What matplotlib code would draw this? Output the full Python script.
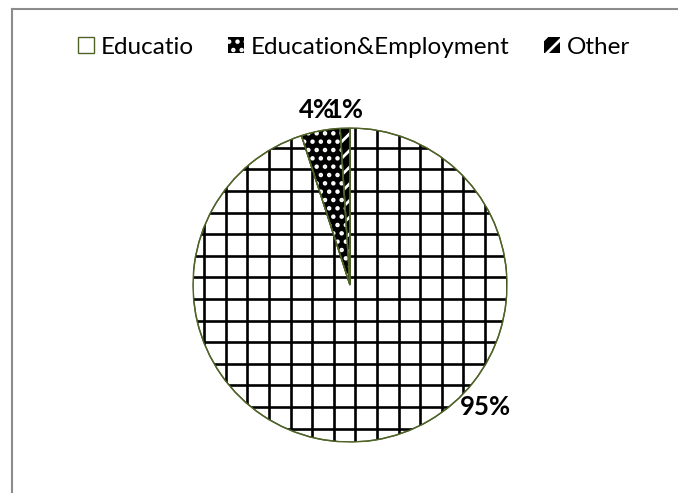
import numpy as np
import matplotlib
matplotlib.use("Agg")
import matplotlib.pyplot as plt
from matplotlib.patches import Patch, Wedge
from matplotlib.lines import Line2D

# data
categories = ["Educatio", "Education&Employment", "Other"]
shares = [95, 4, 1]

OLIVE = "#4f6228"
plt.rcParams["font.family"] = ["Lato", "DejaVu Sans"]
plt.rcParams["hatch.linewidth"] = 2.0

fig = plt.figure(figsize=(6.78, 4.93), dpi=100)

# grey frame on the left and top
fig.add_artist(Line2D([11.5 / 678, 11.5 / 678], [0, 1 - 8.5 / 493],
                      transform=fig.transFigure, color="#8c8c8c", lw=1.5))
fig.add_artist(Line2D([11.5 / 678, 1], [1 - 8.5 / 493, 1 - 8.5 / 493],
                      transform=fig.transFigure, color="#8c8c8c", lw=1.5))

ax = fig.add_axes([193 / 678, 51 / 493, 314 / 678, 314 / 493])
wedges, _ = ax.pie(shares, startangle=90, counterclock=False, radius=1,
                   colors=["white", "black", "black"],
                   wedgeprops=dict(edgecolor=OLIVE, linewidth=1.0))
ax.set_xlim(-1, 1)
ax.set_ylim(-1, 1)
ax.axis("off")

# square grid inside the big slice
step = 0.1376
edu = wedges[0]
for k in range(-8, 9):
    xv = 0.034 + k * step
    ln = ax.plot([xv, xv], [-1.1, 1.1], color="black", lw=1.9, zorder=1.5)[0]
    ln.set_clip_path(edu)
    yv = -0.089 + k * step
    ln = ax.plot([-1.1, 1.1], [yv, yv], color="black", lw=1.9, zorder=1.5)[0]
    ln.set_clip_path(edu)

# white dots / white stripes on the small black slices
hatches = [None, "..", "//"]
for w, h in zip(wedges, hatches):
    if h is None:
        continue
    over = Wedge(w.center, w.r, w.theta1, w.theta2, facecolor="none",
                 edgecolor="white", hatch=h, linewidth=0, zorder=1.6)
    ax.add_patch(over)
for w in wedges:
    edge = Wedge(w.center, w.r, w.theta1, w.theta2, facecolor="none",
                 edgecolor=OLIVE, linewidth=1.0, zorder=1.7)
    ax.add_patch(edge)

# percentage labels
total = sum(shares)
label_pos = [(0.86, -0.777), (-0.21, 1.115), (-0.03, 1.115)]
for v, (lx, ly) in zip(shares, label_pos):
    ax.text(lx, ly, f"{v / total * 100:.0f}%", ha="center", va="center",
            fontsize=18.5, fontweight="bold", color="black", clip_on=False)

handles = [
    Patch(facecolor="white", edgecolor=OLIVE, linewidth=1.0),
    Patch(facecolor="black", edgecolor="white", hatch="..", linewidth=0),
    Patch(facecolor="black", edgecolor="white", hatch="//", linewidth=0),
]
fig.legend(handles, categories, loc="center", bbox_to_anchor=(354 / 678, 1 - 47 / 493),
           ncol=3, frameon=False, fontsize=17.5, handlelength=0.65, handleheight=0.65,
           handletextpad=0.3, columnspacing=1.4, borderpad=0, borderaxespad=0)

fig.savefig("out.png", dpi=100)
